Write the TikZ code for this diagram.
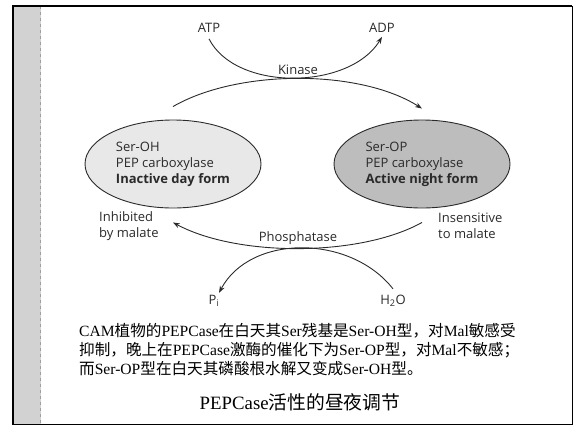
\documentclass[tikz,border=0pt]{standalone}
\usepackage{fontspec}
\setmainfont{Liberation Serif}
\newfontfamily\labelfont{Open Sans}
\newfontfamily\cjk{Noto Sans CJK SC}
\newcommand{\zh}[1]{{\cjk #1}}
\usetikzlibrary{arrows.meta,shapes.geometric}
\definecolor{ink}{HTML}{2A2A2A}
\definecolor{dayfill}{HTML}{E8E8E8}
\definecolor{nightfill}{HTML}{BDBDBD}
\definecolor{strip}{HTML}{D2D2D2}

\begin{document}
\begin{tikzpicture}[x=1pt,y=-1pt,
    lbl/.style={font=\labelfont\fontsize{13}{16}\selectfont,text=ink,inner sep=1pt},
    form/.style={ellipse,draw=ink,line width=0.9pt,minimum width=176pt,minimum height=88pt,
      align=left,inner sep=0pt,font=\labelfont\fontsize{13}{16}\selectfont,text=ink},
    flow/.style={draw=ink,line width=0.9pt,-{Stealth[length=7pt,width=5pt]}}]
  \useasboundingbox (0,0) rectangle (573,426);
  % frame and side strip
  \fill[strip] (13,6) rectangle (41,424);
  \draw[gray!75,dashed,line width=0.8pt] (40,6) -- (40,424);
  \draw[line width=0.8pt] (12,424) -- (572,424) -- (572,6);
  \draw[line width=2pt] (12.5,424) -- (12.5,6) -- (572,6);

  % the two forms
  \node[form,fill=dayfill] (day) at (173,164) {Ser-OH\\PEP carboxylase\\\textbf{Inactive day form}};
  \node[form,fill=nightfill] (night) at (422,164) {Ser-OP\\PEP carboxylase\\\textbf{Active night form}};

  \node[lbl] (atp) at (209,28) {ATP};
  \node[lbl] (adp) at (382,28) {ADP};
  \node[lbl] (kin) at (298,70) {Kinase};
  \node[lbl,align=left,anchor=west] (inh) at (98,226) {Inhibited\\by malate};
  \node[lbl,align=left,anchor=west] (ins) at (437,226) {Insensitive\\to malate};
  \node[lbl] (pho) at (298,238) {Phosphatase};
  \node[lbl] (pi) at (214,301) {P\textsubscript{i}};
  \node[lbl] (water) at (393,301) {H\textsubscript{2}O};

  % kinase: day -> night
  \draw[flow] ([yshift=-5pt]atp.south) .. controls (236,92) and (350,90) .. ([yshift=-3pt]adp.south);
  \draw[flow] ([yshift=13pt]day.north) .. controls (238,69) and (360,69) .. ([yshift=11pt]night.north);
  % phosphatase: night -> day
  \draw[flow] ([yshift=-14pt]night.south) .. controls (360,257) and (237,257) .. ([yshift=-14pt]day.south);
  \draw[flow] ([yshift=5pt]water.north) .. controls (350,234) and (250,234) .. ([xshift=5pt,yshift=1pt]pi.north);

  \node[anchor=north west,align=left,inner sep=0pt,font=\fontsize{15.6}{19}\selectfont] (note) at (79,323)
    {CAM\zh{植物的}PEPCase\zh{在白天其}Ser\zh{残基是}Ser-OH\zh{型，对}Mal\zh{敏感受}\\
     \zh{抑制，晚上在}PEPCase\zh{激酶的催化下为}Ser-OP\zh{型，对}Mal\zh{不敏感；}\\
     \zh{而}Ser-OP\zh{型在白天其磷酸根水解又变成}Ser-OH\zh{型。}};
  \node[font=\fontsize{18.8}{22}\selectfont] (cap) at (300,402) {PEPCase\zh{活性的昼夜调节}};
\end{tikzpicture}
\end{document}
